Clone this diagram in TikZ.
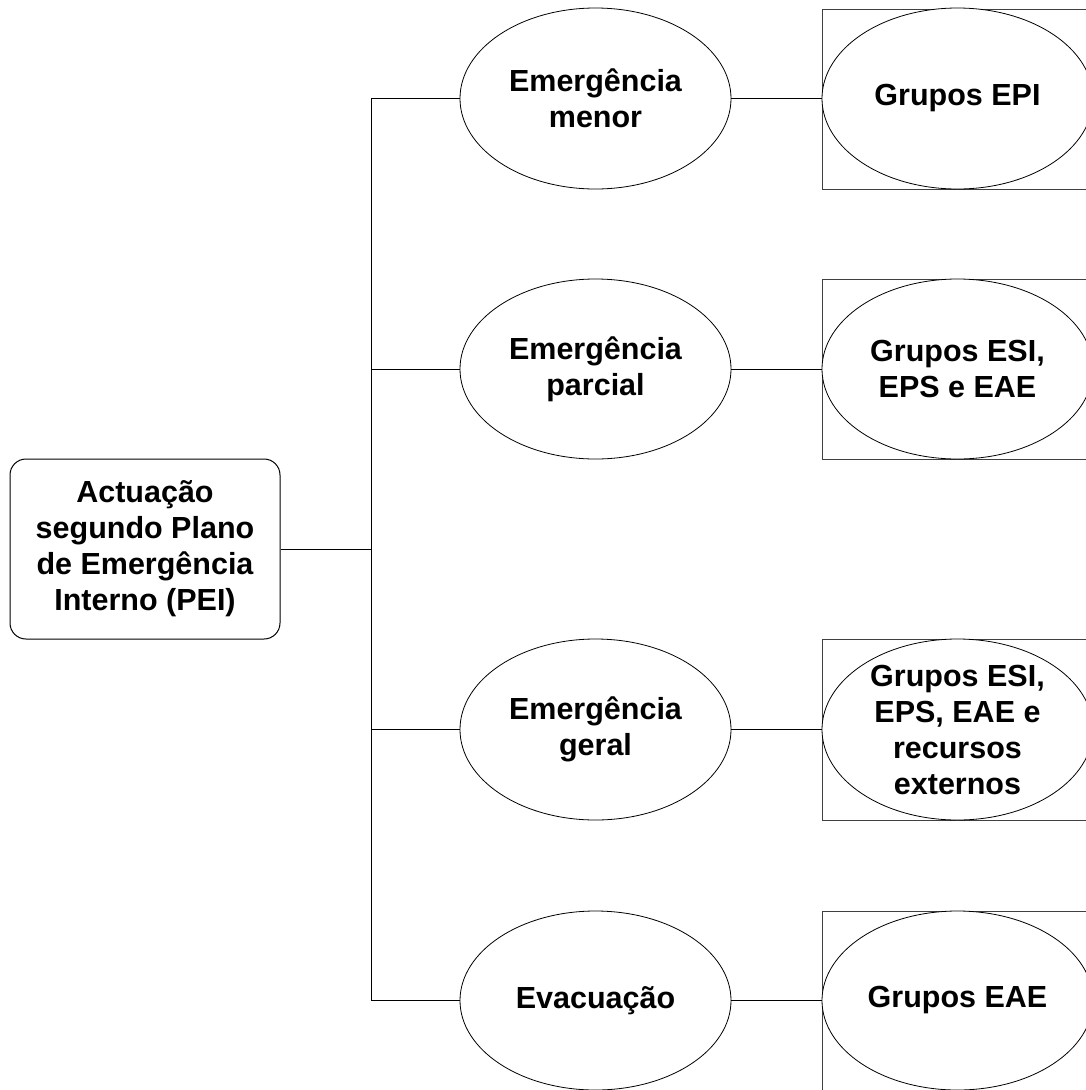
\documentclass[tikz,border=0pt]{standalone}
\usepackage{fontspec}
\setmainfont{Liberation Sans}
\usetikzlibrary{shapes.geometric}
\tikzset{
  lbl/.style={align=center, inner sep=0pt, font=\fontsize{30.5}{36}\selectfont\bfseries},
  oval/.style={draw=black, line width=0.8pt, ellipse, fill=white, minimum width=271pt, minimum height=181pt, inner sep=0pt},
  frame/.style={draw=black!75, line width=1pt, fill=white},
  conn/.style={draw=black, line width=1pt},
  rootbox/.style={draw=black, line width=1pt, rounded corners=16pt, minimum width=270pt, minimum height=180pt, inner sep=0pt, align=center, font=\fontsize{30.5}{36}\selectfont\bfseries}
}
\begin{document}
\begin{tikzpicture}[x=1pt,y=-1pt]
\useasboundingbox (0,0) rectangle (1086,1090);
\clip (0,0) rectangle (1086,1090);
\fill[white] (0,0) rectangle (1086,1090);

% root
\node[rootbox] (root) at (145,549) {Actuação\\segundo Plano\\de Emergência\\Interno (PEI)};

% right frames
\path[frame] (822,9) rectangle (1093,189);
\path[frame] (822,279) rectangle (1093,459);
\path[frame] (822,639) rectangle (1093,820);
\path[frame] (822,911) rectangle (1093,1110);

% middle ellipses
\node[oval] (m1) at (595.5,98.5) {};
\node[oval, minimum height=180pt] (m2) at (595.5,369) {};
\node[oval] (m3) at (595.5,729.5) {};
\node[oval, minimum height=179pt] (m4) at (595.5,1000.5) {};

% right ellipses
\node[oval] (e1) at (957.5,98.5) {};
\node[oval, minimum height=180pt] (e2) at (957.5,369) {};
\node[oval] (e3) at (957.5,729.5) {};
\node[oval, minimum height=179pt] (e4) at (957.5,1000.5) {};

% trunk coordinates
\coordinate (tr) at (371,549);
\coordinate (t1) at (tr |- m1);
\coordinate (t2) at (tr |- m2);
\coordinate (t3) at (tr |- m3);
\coordinate (t4) at (tr |- m4);

% labels
\node[lbl] (lm1) at (m1) {Emergência\\menor};
\node[lbl] (lm2) at (m2) {Emergência\\parcial};
\node[lbl] (lm3) at (m3) {Emergência\\geral};
\node[lbl] (lm4) at (m4) {Evacuação};
\node[lbl] (le1) at (e1) {Grupos EPI};
\node[lbl] (le2) at (e2) {Grupos ESI,\\EPS e EAE};
\node[lbl] (le3) at (e3) {Grupos ESI,\\EPS, EAE e\\recursos\\externos};
\node[lbl] (le4) at (e4) {Grupos EAE};

% connectors
\draw[conn] (root.east) -- (tr);
\draw[conn] (t1) -- (t4);
\draw[conn] (t1) -- (m1.west);
\draw[conn] (t2) -- (m2.west);
\draw[conn] (t3) -- (m3.west);
\draw[conn] (t4) -- (m4.west);
\draw[conn] (m1.east) -- (e1.west);
\draw[conn] (m2.east) -- (e2.west);
\draw[conn] (m3.east) -- (e3.west);
\draw[conn] (m4.east) -- (e4.west);
\end{tikzpicture}
\end{document}
